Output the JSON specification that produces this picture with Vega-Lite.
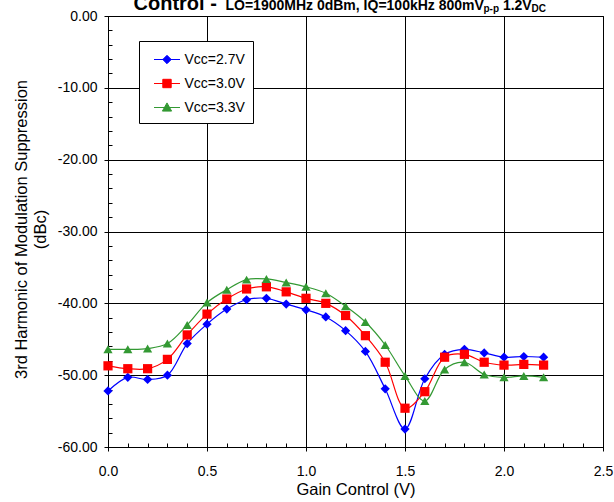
{
  "$schema": "https://vega.github.io/schema/vega-lite/v6.json",
  "width": 495,
  "height": 431,
  "autosize": {"type": "none"},
  "padding": {"left": 108, "top": 16, "right": 11, "bottom": 55},
  "config": {
    "font": "Liberation Sans",
    "view": {"stroke": "#000", "strokeWidth": 1},
    "locale": {"number": {"decimal": ".", "thousands": ",", "grouping": [3], "currency": ["$", ""], "minus": "-"}}
  },
  "data": {
    "values": [
      {"v": 0.0, "s": "Vcc=2.7V", "y": -52.2},
      {"v": 0.1, "s": "Vcc=2.7V", "y": -50.3},
      {"v": 0.2, "s": "Vcc=2.7V", "y": -50.6},
      {"v": 0.3, "s": "Vcc=2.7V", "y": -50.0},
      {"v": 0.4, "s": "Vcc=2.7V", "y": -45.6},
      {"v": 0.5, "s": "Vcc=2.7V", "y": -42.9},
      {"v": 0.6, "s": "Vcc=2.7V", "y": -40.8},
      {"v": 0.7, "s": "Vcc=2.7V", "y": -39.5},
      {"v": 0.8, "s": "Vcc=2.7V", "y": -39.3},
      {"v": 0.9, "s": "Vcc=2.7V", "y": -40.1},
      {"v": 1.0, "s": "Vcc=2.7V", "y": -40.9},
      {"v": 1.1, "s": "Vcc=2.7V", "y": -41.9},
      {"v": 1.2, "s": "Vcc=2.7V", "y": -43.8},
      {"v": 1.3, "s": "Vcc=2.7V", "y": -46.7},
      {"v": 1.4, "s": "Vcc=2.7V", "y": -51.9},
      {"v": 1.5, "s": "Vcc=2.7V", "y": -57.5},
      {"v": 1.6, "s": "Vcc=2.7V", "y": -50.5},
      {"v": 1.7, "s": "Vcc=2.7V", "y": -47.1},
      {"v": 1.8, "s": "Vcc=2.7V", "y": -46.4},
      {"v": 1.9, "s": "Vcc=2.7V", "y": -46.9},
      {"v": 2.0, "s": "Vcc=2.7V", "y": -47.5},
      {"v": 2.1, "s": "Vcc=2.7V", "y": -47.4},
      {"v": 2.2, "s": "Vcc=2.7V", "y": -47.5},
      {"v": 0.0, "s": "Vcc=3.0V", "y": -48.7},
      {"v": 0.1, "s": "Vcc=3.0V", "y": -49.1},
      {"v": 0.2, "s": "Vcc=3.0V", "y": -49.1},
      {"v": 0.3, "s": "Vcc=3.0V", "y": -47.8},
      {"v": 0.4, "s": "Vcc=3.0V", "y": -44.4},
      {"v": 0.5, "s": "Vcc=3.0V", "y": -41.5},
      {"v": 0.6, "s": "Vcc=3.0V", "y": -39.4},
      {"v": 0.7, "s": "Vcc=3.0V", "y": -38.0},
      {"v": 0.8, "s": "Vcc=3.0V", "y": -37.7},
      {"v": 0.9, "s": "Vcc=3.0V", "y": -38.4},
      {"v": 1.0, "s": "Vcc=3.0V", "y": -39.3},
      {"v": 1.1, "s": "Vcc=3.0V", "y": -40.0},
      {"v": 1.2, "s": "Vcc=3.0V", "y": -41.7},
      {"v": 1.3, "s": "Vcc=3.0V", "y": -44.5},
      {"v": 1.4, "s": "Vcc=3.0V", "y": -48.2},
      {"v": 1.5, "s": "Vcc=3.0V", "y": -54.6},
      {"v": 1.6, "s": "Vcc=3.0V", "y": -52.3},
      {"v": 1.7, "s": "Vcc=3.0V", "y": -47.5},
      {"v": 1.8, "s": "Vcc=3.0V", "y": -47.1},
      {"v": 1.9, "s": "Vcc=3.0V", "y": -48.2},
      {"v": 2.0, "s": "Vcc=3.0V", "y": -48.6},
      {"v": 2.1, "s": "Vcc=3.0V", "y": -48.5},
      {"v": 2.2, "s": "Vcc=3.0V", "y": -48.6},
      {"v": 0.0, "s": "Vcc=3.3V", "y": -46.4},
      {"v": 0.1, "s": "Vcc=3.3V", "y": -46.4},
      {"v": 0.2, "s": "Vcc=3.3V", "y": -46.3},
      {"v": 0.3, "s": "Vcc=3.3V", "y": -45.6},
      {"v": 0.4, "s": "Vcc=3.3V", "y": -43.0},
      {"v": 0.5, "s": "Vcc=3.3V", "y": -39.9},
      {"v": 0.6, "s": "Vcc=3.3V", "y": -38.1},
      {"v": 0.7, "s": "Vcc=3.3V", "y": -36.7},
      {"v": 0.8, "s": "Vcc=3.3V", "y": -36.6},
      {"v": 0.9, "s": "Vcc=3.3V", "y": -37.1},
      {"v": 1.0, "s": "Vcc=3.3V", "y": -37.7},
      {"v": 1.1, "s": "Vcc=3.3V", "y": -38.6},
      {"v": 1.2, "s": "Vcc=3.3V", "y": -40.4},
      {"v": 1.3, "s": "Vcc=3.3V", "y": -42.6},
      {"v": 1.4, "s": "Vcc=3.3V", "y": -45.8},
      {"v": 1.5, "s": "Vcc=3.3V", "y": -50.1},
      {"v": 1.6, "s": "Vcc=3.3V", "y": -53.6},
      {"v": 1.7, "s": "Vcc=3.3V", "y": -49.2},
      {"v": 1.8, "s": "Vcc=3.3V", "y": -48.2},
      {"v": 1.9, "s": "Vcc=3.3V", "y": -49.9},
      {"v": 2.0, "s": "Vcc=3.3V", "y": -50.3},
      {"v": 2.1, "s": "Vcc=3.3V", "y": -50.1},
      {"v": 2.2, "s": "Vcc=3.3V", "y": -50.3}
    ]
  },
  "resolve": {
    "axis": {"x": "independent", "y": "independent"},
    "scale": {"shape": "independent", "fill": "independent", "stroke": "independent"}
  },
  "layer": [
    {
      "mark": {"type": "line", "interpolate": "catmull-rom", "strokeWidth": 1.2},
      "encoding": {
        "x": {
          "field": "v", "type": "quantitative",
          "scale": {"domain": [0, 2.5], "nice": false},
          "axis": {
            "orient": "bottom",
            "values": [0, 0.5, 1, 1.5, 2, 2.5],
            "format": ".1f",
            "labelFlush": false,
            "grid": true, "gridColor": "#000", "gridOpacity": 1, "gridWidth": 1,
            "domainColor": "#000", "tickColor": "#000", "tickSize": 4,
            "labelFontSize": 14, "labelColor": "#000", "labelPadding": 13,
            "title": "Gain Control (V)", "titleFontSize": 16.5, "titleFontWeight": "normal", "titleColor": "#000",
            "titleBaseline": "alphabetic", "titleY": 47
          }
        },
        "y": {
          "field": "y", "type": "quantitative",
          "scale": {"domain": [-60, 0], "nice": false},
          "axis": {
            "orient": "left",
            "values": [-60, -50, -40, -30, -20, -10, 0],
            "format": ".2f",
            "labelFlush": false,
            "grid": true, "gridColor": "#000", "gridOpacity": 1, "gridWidth": 1,
            "domainColor": "#000", "tickColor": "#000", "tickSize": 4,
            "labelFontSize": 14, "labelColor": "#000", "labelPadding": 7,
            "title": ["3rd Harmonic of Modulation Suppression", "(dBc)"],
            "titleFontSize": 16.5, "titleFontWeight": "normal", "titleColor": "#000",
            "titleLineHeight": 19, "titleBaseline": "middle", "titleX": -87, "titleY": 213
          }
        },
        "color": {
          "field": "s", "type": "nominal",
          "scale": {"domain": ["Vcc=2.7V", "Vcc=3.0V", "Vcc=3.3V"], "range": ["#0000ff", "#ff0000", "#339933"]},
          "legend": null
        }
      }
    },
    {
      "mark": {"type": "point", "filled": true, "opacity": 1, "size": 85},
      "encoding": {
        "x": {
          "field": "v", "type": "quantitative",
          "axis": {
            "orient": "bottom",
            "values": [0, 0.1, 0.2, 0.3, 0.4, 0.5, 0.6, 0.7, 0.8, 0.9, 1, 1.1, 1.2, 1.3, 1.4, 1.5, 1.6, 1.7, 1.8, 1.9, 2, 2.1, 2.2, 2.3, 2.4, 2.5],
            "labels": false, "grid": false, "domain": false, "title": null,
            "tickSize": -4, "tickColor": "#000"
          }
        },
        "y": {
          "field": "y", "type": "quantitative",
          "axis": {
            "orient": "left",
            "values": [-60, -58, -56, -54, -52, -50, -48, -46, -44, -42, -40, -38, -36, -34, -32, -30, -28, -26, -24, -22, -20, -18, -16, -14, -12, -10, -8, -6, -4, -2, 0],
            "labels": false, "grid": false, "domain": false, "title": null,
            "tickSize": -4, "tickColor": "#000"
          }
        },
        "color": {"field": "s", "type": "nominal", "legend": null},
        "shape": {
          "field": "s", "type": "nominal",
          "scale": {"domain": ["Vcc=2.7V", "Vcc=3.0V", "Vcc=3.3V"], "range": ["diamond", "square", "triangle-up"]},
          "legend": null
        }
      }
    },
    {
      "transform": [{"filter": "datum.v > 100"}],
      "mark": {"type": "point", "filled": true, "opacity": 1, "strokeWidth": 1},
      "encoding": {
        "x": {
          "field": "v", "type": "quantitative",
          "axis": {
            "orient": "top", "labels": false, "ticks": false, "grid": false, "domain": false,
            "title": "Control - ", "titleFontSize": 20, "titleFontWeight": "bold", "titleColor": "#000",
            "titleAlign": "left", "titleBaseline": "alphabetic", "titleX": 25, "titleY": -7
          }
        },
        "y": {
          "field": "y", "type": "quantitative",
          "axis": {
            "orient": "right", "labels": false, "ticks": false, "grid": false, "domain": false,
            "title": "p-p", "titleFontSize": 10, "titleFontWeight": "bold", "titleColor": "#000", "titleAngle": 0,
            "titleAlign": "left", "titleBaseline": "alphabetic", "titleX": -120, "titleY": -5
          }
        },
        "fill": {
          "field": "s", "type": "nominal",
          "scale": {"domain": ["Vcc=2.7V", "Vcc=3.0V", "Vcc=3.3V"], "range": ["#0000ff", "#ff0000", "#339933"]}
        },
        "stroke": {
          "field": "s", "type": "nominal",
          "scale": {"domain": ["Vcc=2.7V", "Vcc=3.0V", "Vcc=3.3V"], "range": ["#0000ff", "#ff0000", "#339933"]}
        },
        "shape": {
          "field": "s", "type": "nominal",
          "scale": {
            "domain": ["Vcc=2.7V", "Vcc=3.0V", "Vcc=3.3V"],
            "range": [
              "M-1.3,0H1.3M0,-0.42L0.42,0L0,0.42L-0.42,0Z",
              "M-1.3,0H1.3M-0.42,-0.42H0.42V0.42H-0.42Z",
              "M-1.3,0H1.3M0,-0.46L0.46,0.36H-0.46Z"
            ]
          },
          "legend": {
            "orient": "none",
            "legendX": 31,
            "legendY": 25,
            "title": null,
            "fillColor": "#fff",
            "strokeColor": "#000",
            "padding": 8,
            "symbolSize": 400,
            "symbolStrokeWidth": 1,
            "symbolOffset": 9.5,
            "labelFontSize": 14,
            "labelColor": "#000",
            "labelOffset": 7,
            "labelExpr": "datum.label + '\u00a0\u00a0\u00a0'",
            "rowPadding": 6
          }
        }
      }
    },
    {
      "transform": [{"filter": "datum.v > 100"}],
      "mark": {"type": "point", "opacity": 1},
      "encoding": {
        "x": {
          "field": "v", "type": "quantitative",
          "axis": {
            "orient": "top", "labels": false, "ticks": false, "grid": false, "domain": false,
            "title": "LO=1900MHz 0dBm, IQ=100kHz 800mV", "titleFontSize": 14, "titleFontWeight": "bold", "titleColor": "#000",
            "titleAlign": "left", "titleBaseline": "alphabetic", "titleX": 117, "titleY": -7
          }
        },
        "y": {
          "field": "y", "type": "quantitative",
          "axis": {
            "orient": "right", "labels": false, "ticks": false, "grid": false, "domain": false,
            "title": "1.2V", "titleFontSize": 14, "titleFontWeight": "bold", "titleColor": "#000", "titleAngle": 0,
            "titleAlign": "left", "titleBaseline": "alphabetic", "titleX": -100.6, "titleY": -7
          }
        }
      }
    },
    {
      "transform": [{"filter": "datum.v > 100"}],
      "mark": {"type": "point", "opacity": 1},
      "encoding": {
        "y": {
          "field": "y", "type": "quantitative",
          "axis": {
            "orient": "right", "labels": false, "ticks": false, "grid": false, "domain": false,
            "title": "DC", "titleFontSize": 10, "titleFontWeight": "bold", "titleColor": "#000", "titleAngle": 0,
            "titleAlign": "left", "titleBaseline": "alphabetic", "titleX": -72, "titleY": -5
          }
        }
      }
    }
  ]
}
